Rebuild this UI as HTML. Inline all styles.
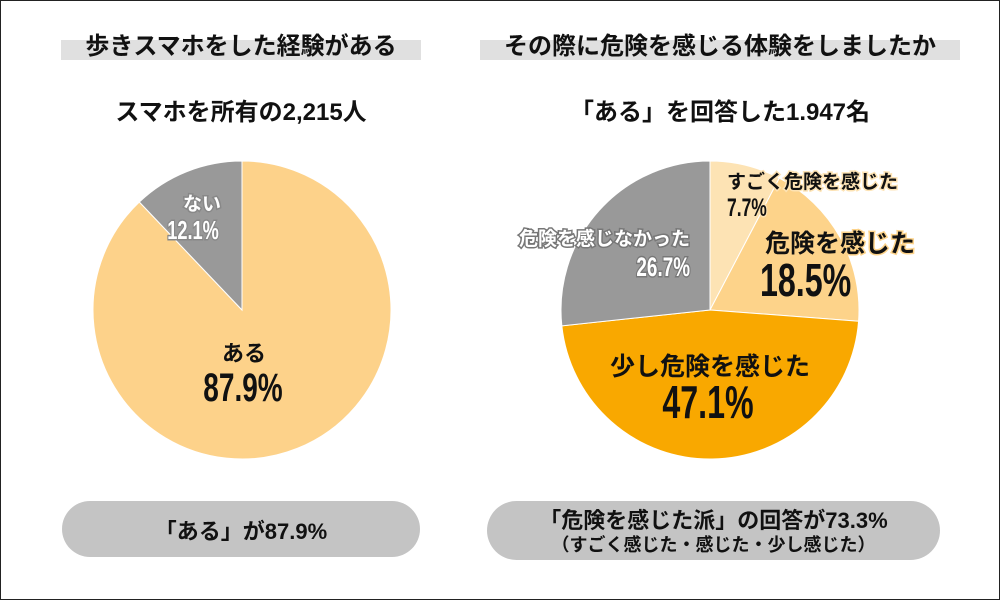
<!DOCTYPE html>
<html><head><meta charset="utf-8"><style>
body{margin:0;width:1000px;height:600px;background:#fff;overflow:hidden;font-family:"Liberation Sans","Noto Sans CJK JP",sans-serif;}
.frame{position:absolute;left:0;top:0;width:998px;height:598px;border:1px solid #222;}
.bar{position:absolute;height:20px;top:40px;background:#e0e0e0;}
.t{position:absolute;font-weight:bold;color:#111;text-align:center;white-space:nowrap;}
.pill{position:absolute;background:#c4c4c4;border-radius:30px;}
</style></head><body>
<div class="frame"></div>
<div class="bar" style="left:61px;width:360px"></div>
<div class="bar" style="left:480px;width:480px"></div>
<div class="t" style="left:61px;width:360px;top:26px;font-size:24px">歩きスマホをした経験がある</div>
<div class="t" style="left:480px;width:480px;top:26px;font-size:24px">その際に危険を感じる体験をしましたか</div>
<div class="t" style="left:61px;width:360px;top:92px;font-size:24px">スマホを所有の2,215人</div>
<div class="t" style="left:480px;width:480px;top:92px;font-size:24px">「ある」を回答した1.947名</div>
<svg id="pies" width="1000" height="600" style="position:absolute;left:0;top:0"></svg>
<div class="pill" style="left:62px;top:501px;width:358px;height:56px"></div>
<div class="t" style="left:62px;width:358px;top:514px;font-size:22px">「ある」が87.9%</div>
<div class="pill" style="left:487px;top:501px;width:453px;height:59px"></div>
<div class="t" style="left:487px;width:453px;top:503px;font-size:22px">「危険を感じた派」の回答が73.3%</div>
<div class="t" style="left:487px;width:453px;top:531px;font-size:18px">（すごく感じた・感じた・少し感じた）</div>
<script>
const leftLabels=["ある","ない"];
const leftValues=[87.9,12.1];
const rightLabels=["すごく危険を感じた","危険を感じた","少し危険を感じた","危険を感じなかった"];
const rightValues=[7.7,18.5,47.1,26.7];
const leftColors=["#fdd28a","#999999"];
const rightColors=["#fde3b4","#fdd38a","#f9a800","#999999"];
const NS="http://www.w3.org/2000/svg";
const svg=document.getElementById('pies');
function pie(cx,cy,r,vals,cols,prefix){
  const tot=vals.reduce((a,b)=>a+b,0);let a0=0;
  vals.forEach((v,i)=>{
    const a1=a0+v/tot*2*Math.PI;
    const x0=cx+r*Math.sin(a0),y0=cy-r*Math.cos(a0),x1=cx+r*Math.sin(a1),y1=cy-r*Math.cos(a1);
    const p=document.createElementNS(NS,'path');
    p.setAttribute('d',`M${cx},${cy}L${x0},${y0}A${r},${r} 0 ${a1-a0>Math.PI?1:0} 1 ${x1},${y1}Z`);
    p.setAttribute('fill',cols[i]);p.setAttribute('stroke','#fff');p.setAttribute('stroke-width','1');
    
    
    svg.appendChild(p);a0=a1;
  });
}
pie(242,310,149,leftValues,leftColors,'left');
pie(710,310,149,rightValues,rightColors,'right');
function txt(x,y,s,size,fill,stroke,anchor,prefix,sx){
  const t=document.createElementNS(NS,'text');
  t.setAttribute('x',0);t.setAttribute('y',0);t.setAttribute('font-size',size);
  t.setAttribute('transform',`translate(${x},${y}) scale(${sx||1},1)`);
  t.setAttribute('font-weight','bold');t.setAttribute('fill',fill);t.setAttribute('text-anchor',anchor||'middle');
  t.setAttribute('font-family','"Liberation Sans","Noto Sans CJK JP",sans-serif');
  if(stroke){t.setAttribute('stroke',stroke);t.setAttribute('stroke-width','3');t.setAttribute('paint-order','stroke');}
  t.textContent=s;
  
  
  svg.appendChild(t);
}
const pct=v=>v.toFixed(1)+'%';
txt(202,210,leftLabels[1],19,'#fff','#888','middle','label-nai');
txt(193,239,pct(leftValues[1]),26,'#fff','#888','middle','value-nai',0.7);
txt(244,361,leftLabels[0],22,'#111',null,'middle','label-aru');
txt(243,401,pct(leftValues[0]),40,'#111',null,'middle','value-aru',0.7);
txt(727,188,rightLabels[0],19,'#111','#fde3b4','start','label-very');
txt(727,216,pct(rightValues[0]),25,'#111','#fde3b4','start','value-very',0.7);
txt(765,252,rightLabels[1],25,'#111','#fdd38a','start','label-felt');
txt(760,296,pct(rightValues[1]),46,'#111',null,'start','value-felt',0.7);
txt(710,375,rightLabels[2],25,'#111',null,'middle','label-little');
txt(708,418,pct(rightValues[2]),46,'#111',null,'middle','value-little',0.7);
txt(690,245,rightLabels[3],19,'#fff','#777','end','label-none');
txt(690,276,pct(rightValues[3]),27,'#fff','#777','end','value-none',0.7);
</script>
</body></html>
